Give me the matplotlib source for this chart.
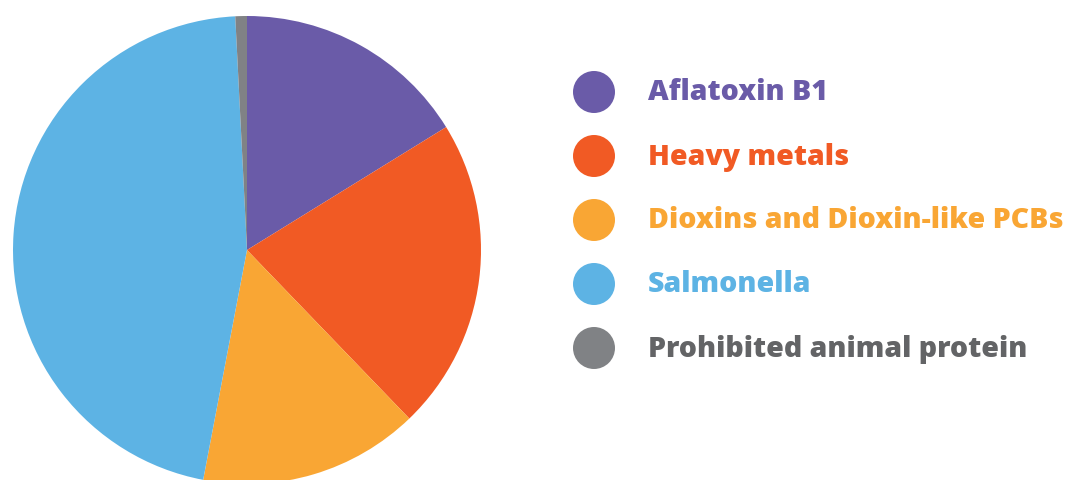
import matplotlib
matplotlib.use('Agg')
import matplotlib.pyplot as plt

# shares
labels = ['Aflatoxin B1', 'Heavy metals', 'Dioxins and Dioxin-like PCBs',
          'Salmonella', 'Prohibited animal protein']
values = [16.2, 21.6, 15.2, 46.2, 0.8]
colors = ['#6A5BA8', '#F15A24', '#F9A634', '#5DB3E4', '#808285']
text_colors = ['#6A5BA8', '#F15A24', '#F9A634', '#5DB3E4', '#636466']

W, H = 1066, 480
fig = plt.figure(figsize=(W / 100, H / 100), dpi=100)

cx, cy, r = 247, 250, 234
ax = fig.add_axes([(cx - r) / W, (H - cy - r) / H, 2 * r / W, 2 * r / H])
ax.pie(values, colors=colors, startangle=90, counterclock=False,
       wedgeprops=dict(linewidth=0), radius=1)
ax.set_xlim(-1, 1)
ax.set_ylim(-1, 1)
ax.set_aspect('equal')
for p in ax.patches:
    p.set_clip_on(False)

# legend drawn by hand in pixel coords
lg = fig.add_axes([0, 0, 1, 1], zorder=3)
lg.set_xlim(0, W)
lg.set_ylim(H, 0)
lg.axis('off')
ys = [92, 156, 220, 284, 348]
lg.scatter([594] * len(ys), ys, s=(42 * 0.72) ** 2, c=colors, linewidths=0)
for y, lab, tc in zip(ys, labels, text_colors):
    lg.text(648, y + 1, lab, color=tc, fontsize=20.5, fontweight='heavy',
            family='Open Sans', va='center', ha='left')

fig.savefig('out.png', dpi=100)
